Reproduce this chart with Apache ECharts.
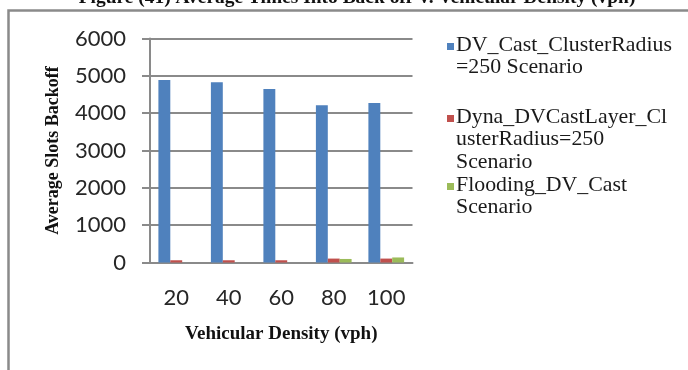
<!DOCTYPE html>
<html>
<head>
<meta charset="utf-8">
<script src="https://cdn.jsdelivr.net/npm/echarts@6/dist/echarts.min.js"></script>
<style>
  html, body { margin: 0; padding: 0; background: #fff; }
  #chart { width: 688px; height: 370px; }
</style>
</head>
<body>
<div id="chart"></div>
<script>
// Vehicular density categories (vph)
const densities = ['20', '40', '60', '80', '100'];

// Series names
const seriesNames = [
  'DV_Cast_ClusterRadius=250 Scenario',
  'Dyna_DVCastLayer_ClusterRadius=250 Scenario',
  'Flooding_DV_Cast Scenario'
];

// Wrapped legend text, one array of lines per series
const legendLines = [
  ['DV_Cast_ClusterRadius', '=250 Scenario'],
  ['Dyna_DVCastLayer_Cl', 'usterRadius=250', 'Scenario'],
  ['Flooding_DV_Cast', 'Scenario']
];

// Average slots backoff per density
const dvCast = [4890, 4830, 4650, 4210, 4270];
const dynaDvCast = [60, 60, 60, 105, 105];
const floodingDvCast = [0, 0, 0, 95, 135];

const yTicks = { min: 0, max: 6000, interval: 1000 };

const colors = ['#4f81bd', '#c0504d', '#9bbb59'];
const gridColor = '#8a8a8a';
const serif = '"Liberation Serif", "Times New Roman", serif';
const sans = 'Lato, "Open Sans", sans-serif';

const chart = echarts.init(document.getElementById('chart'), null, { renderer: 'canvas' });

// Legend drawn as swatch + stacked text lines
const legendGraphics = [];
const legendStartY = [45, 117, 185];
const lineHeight = 22.5;
legendLines.forEach((lines, i) => {
  const y0 = legendStartY[i];
  legendGraphics.push({
    type: 'rect',
    shape: { x: 447, y: y0 - 2, width: 7, height: 7 },
    style: { fill: colors[i] }
  });
  lines.forEach((line, j) => {
    legendGraphics.push({
      type: 'text',
      x: 456,
      y: y0 + j * lineHeight,
      scaleX: 1.04,
      style: {
        text: line,
        font: '21px ' + serif,
        fill: '#1a1a1a',
        verticalAlign: 'middle',
        align: 'left'
      }
    });
  });
});

const option = {
  animation: false,
  backgroundColor: '#ffffff',
  color: colors,
  graphic: [
    // Figure frame
    {
      type: 'rect',
      shape: { x: 8.5, y: 10.5, width: 720, height: 400 },
      style: { fill: 'none', stroke: gridColor, lineWidth: 2.5 }
    },
    // Figure caption
    {
      type: 'text',
      x: 357,
      y: 7,
      scaleX: 1.08,
      style: {
        text: 'Figure (41) Average Times Into Back off V. Vehicular Density (vph)',
        font: 'bold 18px ' + serif,
        fill: '#111',
        align: 'center',
        verticalAlign: 'bottom'
      }
    }
  ].concat(legendGraphics),
  grid: {
    left: 150,
    top: 38.5,
    width: 262.5,
    height: 224,
    containLabel: false
  },
  xAxis: {
    type: 'category',
    data: densities,
    axisLine: { show: true, lineStyle: { color: gridColor, width: 2 } },
    axisTick: { show: false },
    axisLabel: {
      margin: 24,
      fontFamily: sans,
      fontSize: 22,
      color: '#262626'
    },
    name: 'Vehicular Density (vph)',
    nameLocation: 'middle',
    nameGap: 62,
    nameTextStyle: {
      fontFamily: serif,
      fontWeight: 'bold',
      fontSize: 19,
      color: '#111'
    }
  },
  yAxis: {
    type: 'value',
    min: yTicks.min,
    max: yTicks.max,
    interval: yTicks.interval,
    axisLine: { show: true, lineStyle: { color: gridColor, width: 2 } },
    axisTick: { show: true, length: 8, lineStyle: { color: gridColor, width: 2 } },
    splitLine: { show: true, lineStyle: { color: gridColor, width: 2 } },
    axisLabel: {
      margin: 24,
      fontFamily: sans,
      fontSize: 22,
      color: '#262626',
      formatter: (v) => String(v)
    },
    name: 'Average Slots Backoff',
    nameLocation: 'middle',
    nameRotate: 90,
    nameGap: 88,
    nameTextStyle: {
      fontFamily: serif,
      fontWeight: 'bold',
      fontSize: 18,
      color: '#111'
    }
  },
  series: [
    { name: seriesNames[0], type: 'bar', data: dvCast, barGap: '0%', barCategoryGap: '32%' },
    { name: seriesNames[1], type: 'bar', data: dynaDvCast, barGap: '0%', barCategoryGap: '32%' },
    { name: seriesNames[2], type: 'bar', data: floodingDvCast, barGap: '0%', barCategoryGap: '32%' }
  ]
};

chart.setOption(option);
</script>
</body>
</html>
